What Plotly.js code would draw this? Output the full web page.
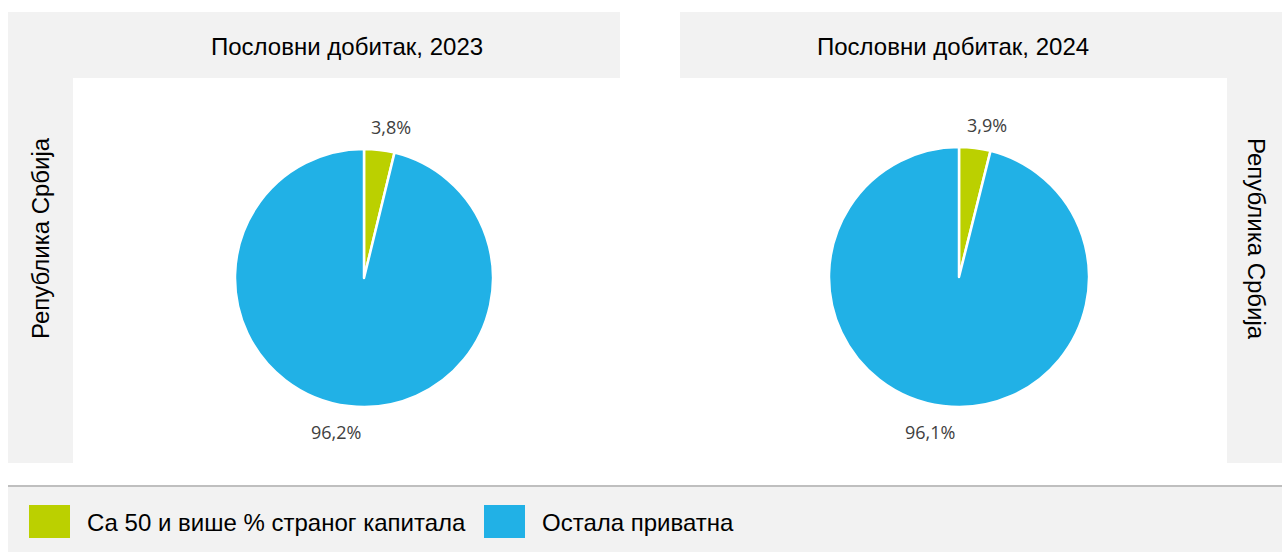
<!DOCTYPE html>
<html><head><meta charset="utf-8">
<script src="https://cdn.plot.ly/plotly-3.0.1.min.js"></script>
<style>html,body{margin:0;padding:0;background:#fff}#chart{width:1282px;height:552px}</style>
</head><body><div id="chart"></div>
<script>
var categories = ["Са 50 и више % страног капитала", "Остала приватна"];
var values2023 = [3.8, 96.2];
var values2024 = [3.9, 96.1];
var panelTitles = ["Пословни добитак, 2023", "Пословни добитак, 2024"];
var rowLabel = "Република Србија";
var colors = ["#bbd000", "#21b1e6"];

var W = 1282, H = 552;
function px(x){return x/W;}
function py(y){return 1 - y/H;}
var narrow = '"Liberation Sans Narrow", "Arial Narrow", "Liberation Sans", Arial, sans-serif';
var labelFont = {family:'"Open Sans", "Noto Sans", sans-serif', size:18, color:'#404040'};

function fmt(v){return v.toFixed(1).replace('.', ',') + '%';}

// pie geometry (pixels): centre and radius
var pies = [
  {vals: values2023, cx: 364, cy: 278, r: 129},
  {vals: values2024, cx: 959, cy: 277, r: 130}
];

var data = pies.map(function(p){
  return {
    type:'pie', values: p.vals, labels: categories, sort:false, direction:'clockwise', rotation:0,
    marker:{colors: colors, line:{color:'#ffffff', width:2.5}},
    textinfo:'none', hoverinfo:'label+percent', showlegend:false,
    domain:{x:[px(p.cx - p.r), px(p.cx + p.r)], y:[py(p.cy + p.r), py(p.cy - p.r)]}
  };
});

function rect(x0,y0,x1,y1,color){
  return {type:'rect', xref:'paper', yref:'paper', x0:px(x0), x1:px(x1), y0:py(y1), y1:py(y0),
    fillcolor:color, line:{width:0}, layer:'below'};
}
var shapes = [
  rect(8,12,620,463,'#f2f2f2'),
  rect(73,78,620,463,'#ffffff'),
  rect(680,12,1282,463,'#f2f2f2'),
  rect(680,78,1227,463,'#ffffff'),
  rect(8,487,1282,552,'#f2f2f2'),
  {type:'line', xref:'paper', yref:'paper', x0:px(8), x1:px(1282), y0:py(486), y1:py(486), line:{color:'#bfbfbf', width:2}}
];

var annotations = [
  {text: panelTitles[0], x:px(347), y:py(46), xref:'paper', yref:'paper', showarrow:false, xanchor:'center', yanchor:'middle', font:{family:narrow, size:24, color:'#000'}},
  {text: panelTitles[1], x:px(953), y:py(46), xref:'paper', yref:'paper', showarrow:false, xanchor:'center', yanchor:'middle', font:{family:narrow, size:24, color:'#000'}},
  {text: rowLabel, x:px(40), y:py(238), xref:'paper', yref:'paper', showarrow:false, textangle:-90, xanchor:'center', yanchor:'middle', font:{family:narrow, size:24, color:'#000'}},
  {text: rowLabel, x:px(1257), y:py(239), xref:'paper', yref:'paper', showarrow:false, textangle:90, xanchor:'center', yanchor:'middle', font:{family:narrow, size:24, color:'#000'}}
];

// outside data labels, placed along each slice's mid-angle
pies.forEach(function(p){
  var total = p.vals.reduce(function(a,b){return a+b;}, 0);
  var cum = 0;
  p.vals.forEach(function(v){
    var a = 2*Math.PI*(cum + v/2)/total;
    cum += v;
    var R = p.r + 23;
    var s = Math.sin(a), c = Math.cos(a);
    var x = p.cx + R*s + (s >= 0 ? 9 : -10);
    var y = p.cy - R*c + (c < 0 ? 3 : 0);
    annotations.push({text: fmt(v), x:px(x), y:py(y), xref:'paper', yref:'paper', showarrow:false,
      xanchor:'center', yanchor:'middle', font: labelFont});
  });
});

// legend drawn from categories/colors
var legendX = [29, 484];
categories.forEach(function(c, i){
  shapes.push(rect(legendX[i], 505, legendX[i]+41, 538, colors[i]));
  annotations.push({text:c, x:px(legendX[i]+56), y:py(522), xref:'paper', yref:'paper', showarrow:false, xanchor:'left', yanchor:'middle', font:{family:narrow, size:24, color:'#000'}});
});

var layout = {
  width:W, height:H, margin:{l:0,r:0,t:0,b:0}, paper_bgcolor:'#ffffff', plot_bgcolor:'#ffffff',
  showlegend:false, shapes:shapes, annotations:annotations
};
Plotly.newPlot('chart', data, layout, {displayModeBar:false, staticPlot:true});
</script></body></html>
